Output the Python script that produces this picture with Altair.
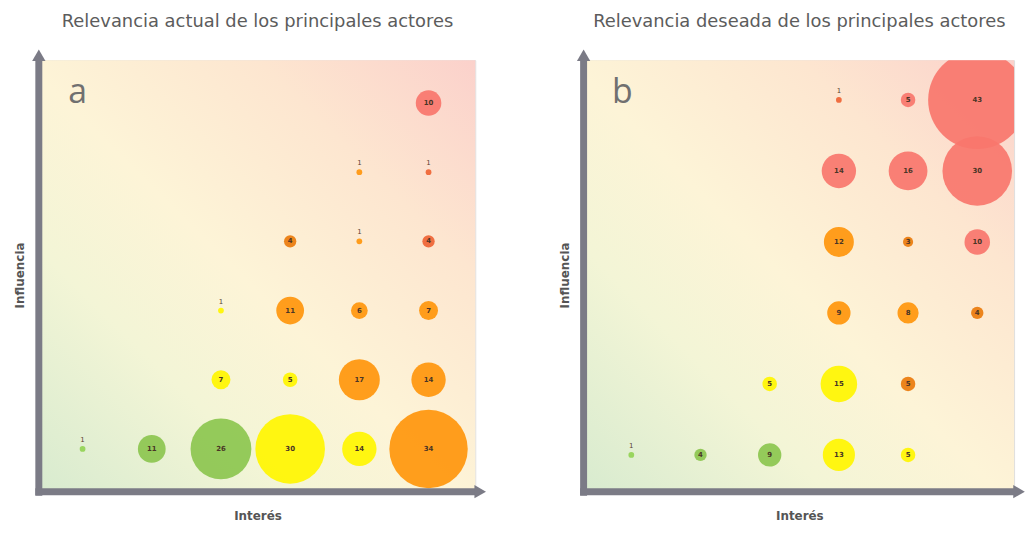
import altair as alt
import pandas as pd

# ---------------- data ----------------
# Panel a: relevancia actual
a_interes    = [1, 2, 3, 4, 5, 6,   3, 4, 5, 6,   3, 4, 5, 6,   4, 5, 6,   5, 6,   6]
a_influencia = [1, 1, 1, 1, 1, 1,   2, 2, 2, 2,   3, 3, 3, 3,   4, 4, 4,   5, 5,   6]
a_valor      = [1, 11, 26, 30, 14, 34,  7, 5, 17, 14,  1, 11, 6, 7,  4, 1, 4,  1, 1,  10]
a_grupo      = ["vc", "v", "v", "am", "am", "na",
                "am", "am", "na", "na",
                "am", "na", "na", "na",
                "no", "na", "ro",
                "na", "ro",
                "ro2"]

# Panel b: relevancia deseada
b_interes    = [1, 2, 3, 4, 5,   3, 4, 5,   4, 5, 6,   4, 5, 6,   4, 5, 6,   4, 5, 6]
b_influencia = [1, 1, 1, 1, 1,   2, 2, 2,   3, 3, 3,   4, 4, 4,   5, 5, 5,   6, 6, 6]
b_valor      = [1, 4, 9, 13, 5,  5, 15, 5,  9, 8, 4,  12, 3, 10,  14, 16, 30,  1, 5, 43]
b_grupo      = ["vc", "v", "v", "am", "am",
                "am", "am", "no",
                "na", "na", "no",
                "na", "no", "ro2",
                "ro2", "ro2", "ro2",
                "ro", "ro2", "ro2"]

titulos = ["Relevancia actual de los principales actores",
           "Relevancia deseada de los principales actores"]
letras = ["a", "b"]

grupo_dom = ["vc", "v", "am", "na", "no", "ro", "ro2"]
grupo_col = ["#92d354", "#8cc64f", "#fff500", "#ff960c", "#ea7b0c", "#ef6434", "#f9766c"]

AXIS_COL = "#7b7b86"
FONT = "DejaVu Sans"


def panel(inter, infl, val, grp, titulo, letra, xdom, ydom, w, h):
    df = pd.DataFrame({"interes": inter, "influencia": infl, "valor": val, "grupo": grp})
    df["etiqueta"] = df["valor"].astype(str)

    xs = alt.Scale(domain=xdom, nice=False, zero=False)
    ys = alt.Scale(domain=ydom, nice=False, zero=False)
    xax = alt.Axis(title="Interés", labels=False, ticks=False, domain=False, grid=False,
                   titleFont=FONT, titleFontWeight="bold", titleFontSize=12,
                   titleColor="#555555", titlePadding=21)
    yax = alt.Axis(title="Influencia", labels=False, ticks=False, domain=False, grid=False,
                   titleFont=FONT, titleFontWeight="bold", titleFontSize=12,
                   titleColor="#555555", titlePadding=13)

    one = pd.DataFrame({"k": [0]})
    fondo = alt.Chart(one).mark_rect(
        color=alt.Gradient(
            gradient="linear",
            stops=[alt.GradientStop(color="#d8ebcf", offset=0.0),
                   alt.GradientStop(color="#f3f5d6", offset=0.28),
                   alt.GradientStop(color="#fdf4d7", offset=0.48),
                   alt.GradientStop(color="#fde6d0", offset=0.75),
                   alt.GradientStop(color="#fbd1cb", offset=1.0)],
            x1=0, y1=1, x2=1, y2=0)
    ).encode(x=alt.value(0), x2=alt.value(w), y=alt.value(0), y2=alt.value(h))

    base = alt.Chart(df).transform_calculate(tam="datum.valor + 1.6")

    burbujas = base.mark_circle(opacity=0.92, clip=True).encode(
        x=alt.X("interes:Q", scale=xs, axis=xax),
        y=alt.Y("influencia:Q", scale=ys, axis=yax),
        size=alt.Size("tam:Q", scale=alt.Scale(type="pow", exponent=2, domain=[0, 50],
                                               range=[0, 12272]), legend=None),
        color=alt.Color("grupo:N", scale=alt.Scale(domain=grupo_dom, range=grupo_col),
                        legend=None),
    )

    txt_in = base.transform_filter("datum.valor > 1").mark_text(
        fontSize=7, font=FONT, color="#4a3526", fontWeight="bold"
    ).encode(x=alt.X("interes:Q", scale=xs), y=alt.Y("influencia:Q", scale=ys),
             text="etiqueta:N")
    txt_out = base.transform_filter("datum.valor <= 1").mark_text(
        fontSize=7, font=FONT, color="#5a4030", dy=-9
    ).encode(x=alt.X("interes:Q", scale=xs), y=alt.Y("influencia:Q", scale=ys),
             text="etiqueta:N")

    eje_y = alt.Chart(one).mark_rule(color=AXIS_COL, strokeWidth=7).encode(
        x=alt.value(-1), y=alt.value(h + 6), y2=alt.value(-2))
    eje_x = alt.Chart(one).mark_rule(color=AXIS_COL, strokeWidth=7).encode(
        x=alt.value(-4.5), x2=alt.value(w + 2), y=alt.value(h + 2))
    punta_y = alt.Chart(one).mark_point(shape="triangle-up", filled=True, opacity=1,
                                        color=AXIS_COL, size=180).encode(
        x=alt.value(-1), y=alt.value(-5))
    punta_x = alt.Chart(one).mark_point(shape="triangle-right", filled=True, opacity=1,
                                        color=AXIS_COL, size=180).encode(
        x=alt.value(w + 5), y=alt.value(h + 2))

    letra_t = alt.Chart(one).mark_text(
        text=letra, fontSize=34, font="Open Sans", color="#707070",
        align="center", baseline="alphabetic"
    ).encode(x=alt.value(38), y=alt.value(43))

    return alt.layer(fondo, burbujas, txt_in, txt_out, eje_y, eje_x, punta_y, punta_x,
                     letra_t).properties(
        width=w, height=h,
        title=alt.TitleParams(titulo, font=FONT, fontSize=18, fontWeight="normal",
                              color="#5c5c5c", offset=19, anchor="middle"))


pa = panel(a_interes, a_influencia, a_valor, a_grupo, titulos[0], letras[0],
           [0.382, 6.675], [0.411, 6.618], 438, 432)
pb = panel(b_interes, b_influencia, b_valor, b_grupo, titulos[1], letras[1],
           [0.325, 6.532], [0.510, 6.560], 432, 432)

chart = alt.hconcat(pa, pb, spacing=71).properties(
    padding={"left": 5, "top": 2, "right": 0, "bottom": 0}
).configure_view(stroke=None).configure(background="white")

chart.save("out.html", embed_options={"renderer": "svg", "actions": False})
